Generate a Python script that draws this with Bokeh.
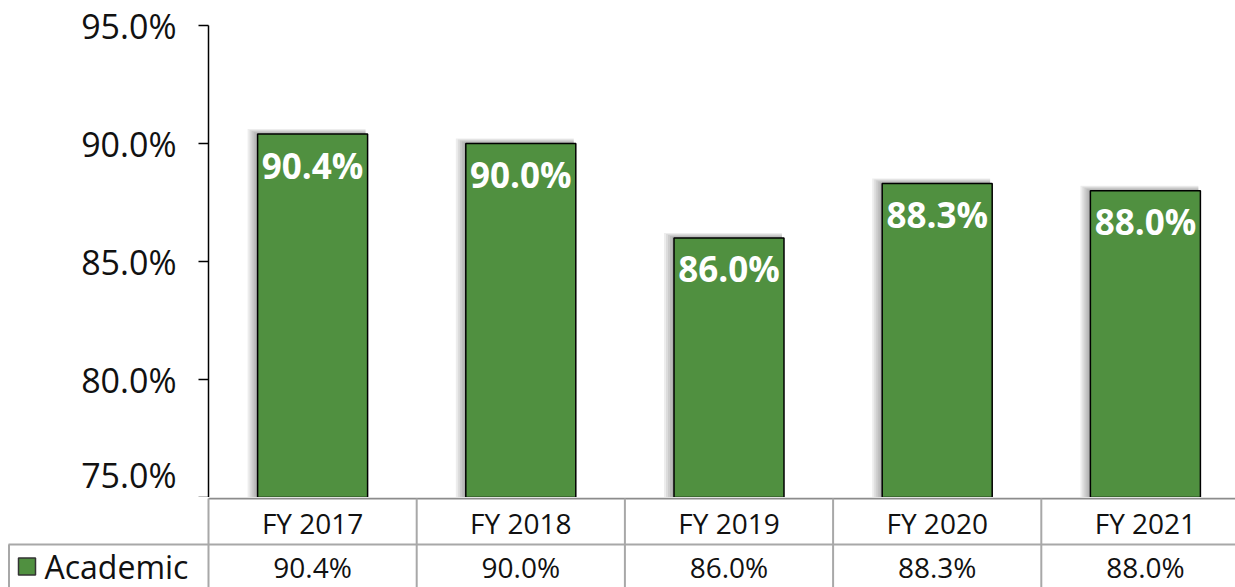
from bokeh.plotting import figure
from bokeh.models import Range1d, FixedTicker, PrintfTickFormatter, ColumnDataSource
from bokeh.core.properties import value
from bokeh.embed import file_html
from bokeh.resources import INLINE

# ---- data ----
categories = ["FY 2017", "FY 2018", "FY 2019", "FY 2020", "FY 2021"]
academic = [90.4, 90.0, 86.0, 88.3, 88.0]
series_name = "Academic"
y_ticks = [75, 80, 85, 90, 95]

FONT = "Open Sans"
GREEN = "#509040"
COL_W = 208.2          # pixel width of one category column
LEFT = 208             # left panel width (figure px)
TOTAL_W = 1235
FRAME_W = TOTAL_W - LEFT
X_END = FRAME_W / COL_W
X_START = -LEFT / COL_W

n = len(categories)
xs = [i + 0.5 for i in range(n)]
labels = [f"{v:.1f}%" for v in academic]
BAR_W = 110 / COL_W

# ---- top chart ----
p = figure(width=TOTAL_W, height=497, output_backend="svg", toolbar_location=None,
           x_range=Range1d(0, X_END), y_range=Range1d(75, 95),
           min_border_left=LEFT, min_border_right=0, min_border_top=25, min_border_bottom=0,
           x_axis_location=None)
p.outline_line_color = None
p.xgrid.visible = False
p.ygrid.visible = False
p.background_fill_color = "white"

ax = p.yaxis[0]
ax.ticker = FixedTicker(ticks=y_ticks)
ax.formatter = PrintfTickFormatter(format="%.1f%%")
ax.major_label_text_font = FONT
ax.major_label_text_font_size = "34px"
ax.major_label_text_color = "#111111"
ax.major_label_standoff = 22
ax.major_tick_out = 10
ax.major_tick_in = 0
ax.minor_tick_line_color = None
ax.axis_line_color = "black"
ax.axis_line_width = 1.5
ax.major_tick_line_color = "black"
ax.major_tick_line_width = 1.5

# drop shadow (soft, shifted left/up)
PX_X = 1 / COL_W
PX_Y = 20 / 472
for k in range(1, 6):
    src = ColumnDataSource(dict(
        left=[x - BAR_W / 2 - 2 * k * PX_X for x in xs],
        right=[x + BAR_W / 2 - 2 * PX_X for x in xs],
        top=[v + k * PX_Y for v in academic],
        bottom=[75] * n))
    p.quad(left="left", right="right", top="top", bottom="bottom", source=src,
           fill_color="black", fill_alpha=0.07, line_color=None)

src = ColumnDataSource(dict(x=xs, top=academic, label=labels))
p.vbar(x="x", top="top", bottom=75, width=BAR_W, source=src,
       fill_color=GREEN, line_color="black", line_width=1.5)
p.text(x="x", y="top", text="label", source=src, text_align="center",
       text_baseline="middle", y_offset=31, text_color="white",
       text_font=value(FONT), text_font_style="bold", text_font_size="35px")

# ---- data table below ----
t = figure(width=TOTAL_W, height=90, output_backend="svg", toolbar_location=None,
           x_range=Range1d(X_START, X_END), y_range=Range1d(90, 0),
           min_border=0, x_axis_location=None, y_axis_location=None)
t.outline_line_color = None
t.xgrid.visible = False
t.ygrid.visible = False

GRID = "#a8a8a8"
# horizontal lines
t.segment(x0=[0], y0=[1], x1=[X_END], y1=[1], line_color="#8c8c8c", line_width=2)
t.segment(x0=[X_START + 8 * PX_X], y0=[47], x1=[X_END], y1=[47], line_color=GRID, line_width=2)
# vertical lines
t.segment(x0=list(range(n)), y0=[1] * n, x1=list(range(n)), y1=[90] * n,
          line_color=GRID, line_width=2)
t.segment(x0=[X_START + 8.5 * PX_X], y0=[47], x1=[X_START + 8.5 * PX_X], y1=[90],
          line_color=GRID, line_width=2)

tsrc = ColumnDataSource(dict(x=xs, cat=categories, label=labels))
t.text(x="x", y=25, text="cat", source=tsrc, text_align="center", text_baseline="middle",
       text_font=value(FONT), text_font_size="28px", text_color="#111111")
t.text(x="x", y=69, text="label", source=tsrc, text_align="center", text_baseline="middle",
       text_font=value(FONT), text_font_size="28px", text_color="#111111")

# legend key
t.scatter(x=[X_START + 26.5 * PX_X], y=[69], marker="square", size=17,
          fill_color=GREEN, line_color="#333333", line_width=1.5)
t.text(x=[X_START + 44 * PX_X], y=[69], text=[series_name], text_align="left",
       text_baseline="middle", text_font=value(FONT), text_font_size="32px",
       text_color="#111111")

open("out.html", "w").write(file_html([p, t], INLINE))
